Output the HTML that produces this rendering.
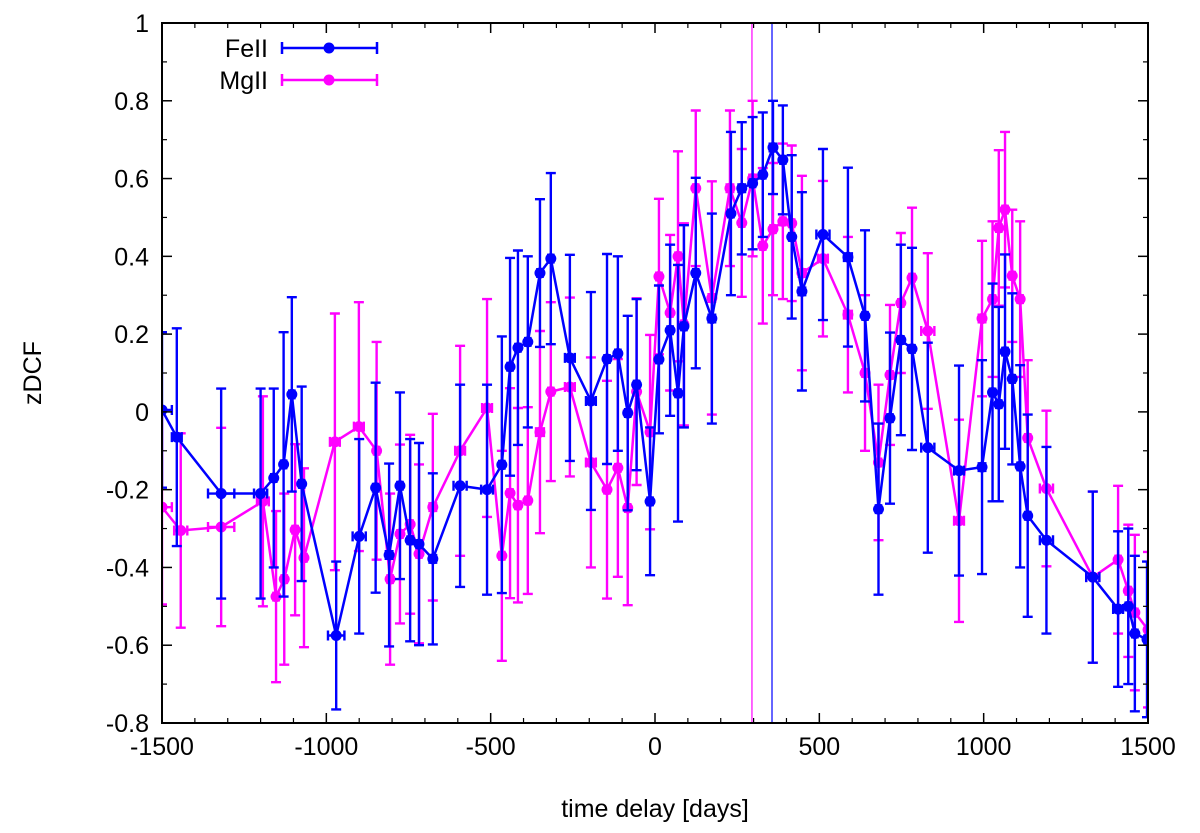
<!DOCTYPE html>
<html><head><meta charset="utf-8"><style>
html,body{margin:0;padding:0;background:#fff;}
svg{display:block;font-family:"Liberation Sans",sans-serif;}
</style></head><body>
<svg id="chart" width="1200" height="833" viewBox="0 0 1200 833" xmlns="http://www.w3.org/2000/svg">
<defs><clipPath id="plotclip"><rect x="162" y="23" width="986" height="700"/></clipPath></defs>
<g id="grid-layer"></g>
<g id="data-layer" clip-path="url(#plotclip)"></g>
<rect x="162" y="23" width="986" height="700" fill="none" stroke="#000" stroke-width="2"/>
<g id="axis-layer"></g>
<text x="655" y="817" font-size="25" text-anchor="middle">time delay [days]</text>
<text x="0" y="0" font-size="25" text-anchor="middle" transform="translate(41,373) rotate(-90)">zDCF</text>
<g id="legend-layer"></g>
</svg>
<script>
const feX=[-1500,-1455,-1320,-1200,-1160,-1130,-1105,-1075,-970,-900,-850,-809,-776,-745,-718,-676,-593,-511,-466,-441,-417,-387,-350,-317,-259,-195,-146,-113,-83,-56,-15,12,46,70,88,124,173,231,264,297,328,359,389,416,447,511,587,639,680,715,748,782,830,925,995,1027,1046,1065,1087,1111,1134,1191,1332,1409,1440,1460,1497];
const feY=[0.005,-0.065,-0.21,-0.21,-0.17,-0.135,0.045,-0.185,-0.575,-0.32,-0.195,-0.368,-0.19,-0.33,-0.34,-0.378,-0.19,-0.2,-0.136,0.116,0.165,0.18,0.357,0.394,0.139,0.028,0.136,0.15,-0.003,0.07,-0.23,0.135,0.21,0.048,0.22,0.357,0.24,0.51,0.575,0.588,0.61,0.68,0.648,0.45,0.31,0.456,0.398,0.247,-0.25,-0.016,0.185,0.162,-0.092,-0.151,-0.142,0.05,0.02,0.155,0.085,-0.14,-0.267,-0.33,-0.425,-0.507,-0.5,-0.57,-0.585];
const feErr=[0.2,0.28,0.27,0.27,0.23,0.34,0.25,0.25,0.19,0.25,0.27,0.235,0.24,0.26,0.26,0.22,0.26,0.27,0.33,0.28,0.25,0.22,0.19,0.22,0.265,0.28,0.27,0.25,0.25,0.22,0.19,0.19,0.22,0.33,0.26,0.245,0.27,0.21,0.17,0.17,0.16,0.12,0.14,0.21,0.255,0.22,0.23,0.22,0.22,0.22,0.245,0.26,0.27,0.27,0.275,0.28,0.25,0.25,0.22,0.26,0.26,0.24,0.22,0.2,0.2,0.2,0.2];
const feXerr=[30,15,40,20,8,8,8,8,25,20,8,10,8,8,8,10,20,18,8,8,8,8,8,8,15,15,8,8,8,8,8,8,8,8,8,8,10,8,10,8,8,10,8,8,10,20,12,8,8,8,8,8,20,15,10,8,8,8,8,8,8,20,20,15,8,8,8];
const mgX=[-1500,-1443,-1320,-1193,-1153,-1128,-1095,-1068,-974,-901,-847,-806,-776,-745,-718,-676,-593,-511,-466,-441,-417,-387,-350,-317,-259,-195,-146,-113,-83,-56,-15,12,46,70,88,124,173,228,264,297,328,359,389,416,447,511,587,639,680,715,748,782,830,925,995,1027,1046,1065,1087,1111,1134,1191,1332,1409,1440,1460,1500];
const mgY=[-0.245,-0.305,-0.296,-0.23,-0.475,-0.43,-0.303,-0.375,-0.077,-0.038,-0.1,-0.43,-0.314,-0.289,-0.365,-0.245,-0.1,0.01,-0.37,-0.209,-0.24,-0.228,-0.052,0.052,0.064,-0.13,-0.2,-0.144,-0.247,0.052,-0.052,0.348,0.255,0.4,0.225,0.575,0.293,0.575,0.486,0.6,0.427,0.47,0.49,0.485,0.357,0.394,0.25,0.1,-0.13,0.095,0.28,0.345,0.208,-0.28,0.24,0.29,0.473,0.52,0.35,0.29,-0.067,-0.197,-0.425,-0.38,-0.46,-0.516,-0.56];
const mgErr=[0.25,0.25,0.255,0.27,0.22,0.22,0.22,0.23,0.33,0.32,0.28,0.22,0.23,0.23,0.23,0.24,0.27,0.28,0.27,0.27,0.25,0.24,0.26,0.23,0.23,0.27,0.28,0.28,0.25,0.24,0.25,0.2,0.2,0.27,0.26,0.2,0.3,0.2,0.19,0.2,0.2,0.17,0.2,0.2,0.25,0.2,0.2,0.2,0.2,0.18,0.18,0.18,0.2,0.26,0.2,0.2,0.2,0.2,0.17,0.2,0.2,0.2,0.22,0.19,0.17,0.2,0.2];
const mgXerr=[30,20,40,18,8,8,8,8,15,15,8,8,8,8,8,10,15,15,8,8,8,8,12,8,15,15,8,8,8,8,8,8,8,8,8,8,10,10,8,10,8,8,8,8,10,15,12,8,8,8,8,8,20,15,10,8,8,8,8,8,8,20,20,8,8,8,8];
const xTicks=[-1500,-1000,-500,0,500,1000,1500];
const yTicks=[1,0.8,0.6,0.4,0.2,0,-0.2,-0.4,-0.6,-0.8];
const vLines=[295,356];

const NS="http://www.w3.org/2000/svg";
const X0=162,X1=1148,Y0=723,Y1=23;
function sx(v){return X0+(v+1500)/3000*(X1-X0);}
function sy(v){return Y0-(v+0.8)/1.8*(Y0-Y1);}
function mk(tag,attrs,parent){const e=document.createElementNS(NS,tag);for(const k in attrs)e.setAttribute(k,attrs[k]);parent.appendChild(e);return e;}
const ax=document.getElementById('axis-layer');
xTicks.forEach(t=>{
  const l=mk('line',{x1:sx(t),x2:sx(t),y1:Y0,y2:Y0-10,stroke:'#000','stroke-width':1.5},ax);
  
  
  const l2=mk('line',{x1:sx(t),x2:sx(t),y1:Y1,y2:Y1+10,stroke:'#000','stroke-width':1.5},ax);
  
  
  const tx=mk('text',{x:sx(t),y:Y0+32,'font-size':25,'text-anchor':'middle'},ax);
  tx.textContent=String(t);
  
  
});
for(let t=-1400;t<1500;t+=100){if(t%500===0)continue;
  const l=mk('line',{x1:sx(t),x2:sx(t),y1:Y0,y2:Y0-5,stroke:'#000','stroke-width':1.2},ax);
  
  
  const l2=mk('line',{x1:sx(t),x2:sx(t),y1:Y1,y2:Y1+5,stroke:'#000','stroke-width':1.2},ax);
  
  
}
yTicks.forEach(t=>{
  const l=mk('line',{x1:X0,x2:X0+10,y1:sy(t),y2:sy(t),stroke:'#000','stroke-width':1.5},ax);
  
  
  const l2=mk('line',{x1:X1,x2:X1-10,y1:sy(t),y2:sy(t),stroke:'#000','stroke-width':1.5},ax);
  
  
  const tx=mk('text',{x:X0-13,y:sy(t)+9,'font-size':25,'text-anchor':'end'},ax);
  tx.textContent=(Math.round(t*10)/10).toString();
  
  
});
for(let i=0;i<yTicks.length-1;i++){const t=(yTicks[i]+yTicks[i+1])/2;
  const l=mk('line',{x1:X0,x2:X0+5,y1:sy(t),y2:sy(t),stroke:'#000','stroke-width':1.2},ax);
  
  
  const l2=mk('line',{x1:X1,x2:X1-5,y1:sy(t),y2:sy(t),stroke:'#000','stroke-width':1.2},ax);
  
  
}
const dl=document.getElementById('data-layer');
const vl1=mk('line',{x1:sx(vLines[0]),x2:sx(vLines[0]),y1:Y1,y2:Y0,stroke:'#ff00ff','stroke-width':1.2},dl);


const vl2=mk('line',{x1:sx(vLines[1]),x2:sx(vLines[1]),y1:Y1,y2:Y0,stroke:'#0000ff','stroke-width':1.2},dl);


function series(xs,ys,es,xes,color,name){
  const g=mk('g',{},dl);
  
  
  const path=mk('polyline',{points:xs.map((x,i)=>sx(x)+','+sy(ys[i])).join(' '),fill:'none',stroke:color,'stroke-width':2.5},g);
  
  
  xs.forEach((x,i)=>{
    const cx=sx(x),cy=sy(ys[i]),t=sy(ys[i]+es[i]),b=sy(ys[i]-es[i]);
    const x1=sx(x-xes[i]),x2=sx(x+xes[i]);
    const d=`M${cx},${t}V${b}M${cx-5},${t}H${cx+5}M${cx-5},${b}H${cx+5}M${x1},${cy}H${x2}M${x1},${cy-5}V${cy+5}M${x2},${cy-5}V${cy+5}`;
    const eb=mk('path',{d:d,stroke:color,'stroke-width':2.4,fill:'none'},g);
    
    
    const c=mk('circle',{cx:cx,cy:cy,r:5.5,fill:color},g);
    
    
  });
}
series(mgX,mgY,mgErr,mgXerr,'#ff00ff','mgii');
series(feX,feY,feErr,feXerr,'#0000ff','feii');
const lg=document.getElementById('legend-layer');
[['FeII','#0000ff',48],['MgII','#ff00ff',80]].forEach(([lab,col,y])=>{
  const tx=mk('text',{x:268,y:y+9,'font-size':25,'text-anchor':'end'},lg);
  tx.textContent=lab;
  
  
  const p=mk('path',{d:`M282,${y}H377M282,${y-6}V${y+6}M377,${y-6}V${y+6}`,stroke:col,'stroke-width':2.5,fill:'none'},lg);
  
  
  const c=mk('circle',{cx:329,cy:y,r:5.5,fill:col},lg);
  
  
});
</script>
</body></html>
